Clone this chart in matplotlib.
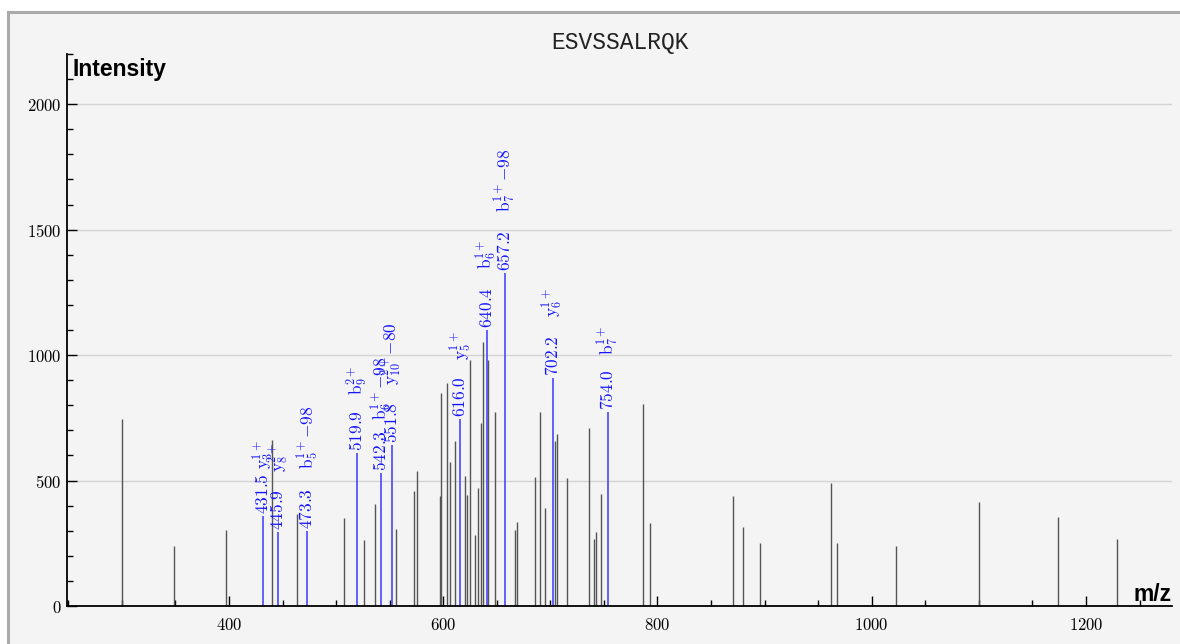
import matplotlib
matplotlib.use('Agg')
import matplotlib.pyplot as plt
from matplotlib.patches import Rectangle
from matplotlib.ticker import MultipleLocator, FuncFormatter

plt.rcParams['mathtext.fontset'] = 'cm'

# unannotated peaks
peak_mz = [300.1, 349.0, 397.2, 440.4, 463.5, 507.4, 526.3, 536.3, 555.6, 573.0,
           575.2, 596.7, 597.8, 603.8, 606.5, 611.3, 620.3, 622.2, 625.3, 629.3,
           632.1, 634.8, 637.1, 642.1, 648.0, 666.7, 668.6, 685.3, 690.3, 695.0,
           704.2, 706.0, 715.8, 735.8, 740.4, 742.3, 747.4, 786.2, 792.7, 870.8,
           879.5, 895.7, 961.7, 967.9, 1023.1, 1100.4, 1173.6, 1228.9]
peak_int = [747, 241, 304, 660, 367, 351, 264, 407, 308, 460,
            537, 437, 850, 887, 573, 658, 517, 441, 981, 284,
            471, 728, 1051, 981, 775, 304, 335, 514, 775, 391,
            658, 684, 511, 708, 268, 295, 447, 804, 331, 437,
            315, 251, 491, 253, 239, 413, 353, 268]

# annotated (matched) peaks
ion_mz = [431.5, 445.9, 473.3, 519.9, 542.3, 551.8, 616.0, 640.4, 657.2, 702.2, 754.0]
ion_int = [357, 293, 297, 609, 531, 643, 747, 1100, 1327, 908, 775]
ion_names = [r'\mathrm{y}_{3}^{1+}', r'\mathrm{y}_{8}^{2+}', r'\mathrm{b}_{5}^{1+}{-}98',
             r'\mathrm{b}_{9}^{2+}', r'\mathrm{b}_{6}^{1+}{-}98', r'\mathrm{y}_{10}^{2+}{-}80',
             r'\mathrm{y}_{5}^{1+}', r'\mathrm{b}_{6}^{1+}', r'\mathrm{b}_{7}^{1+}{-}98',
             r'\mathrm{y}_{6}^{1+}', r'\mathrm{b}_{7}^{1+}']
# pixel offset of the ion name above the peak top
ion_off = [47, 60, 62, 58, 53, 60, 59, 61, 61, 61, 57]

blue = '#1414ff'

fig = plt.figure(figsize=(11.8, 6.44), dpi=100)
fig.patch.set_facecolor('white')
fig.patches.append(Rectangle((8 / 1180, -0.1), 1.2, 0.1 + 632 / 644, transform=fig.transFigure,
                             facecolor='#f4f4f4', edgecolor='#aaaaaa', lw=2.2, zorder=-10))

ax = fig.add_axes([67 / 1180, 38 / 644, 1105 / 1180, 552 / 644])
ax.set_facecolor('none')
ax.set_xlim(248.8, 1280.3)
ax.set_ylim(0, 2200)

ax.vlines(peak_mz, 0, peak_int, color='#555555', lw=1)
ax.vlines(ion_mz, 0, ion_int, color='#4848ff', lw=1.2)

for m, h, name, off in zip(ion_mz, ion_int, ion_names, ion_off):
    ax.annotate(f'${m:.1f}$', xy=(m, h), xytext=(0, 2), textcoords='offset pixels',
                rotation=90, ha='center', va='bottom', color=blue, fontsize=12.5)
    ax.annotate(f'${name}$', xy=(m, h), xytext=(0, off), textcoords='offset pixels',
                rotation=90, ha='center', va='bottom', color=blue, fontsize=12.5)

for s in ['top', 'right']:
    ax.spines[s].set_visible(False)
for s in ['left', 'bottom']:
    ax.spines[s].set_linewidth(1.3)

ax.xaxis.set_major_locator(MultipleLocator(200))
ax.xaxis.set_minor_locator(MultipleLocator(50))
ax.yaxis.set_major_locator(MultipleLocator(500))
ax.yaxis.set_minor_locator(MultipleLocator(100))
fmt = FuncFormatter(lambda v, p: f'${v:.0f}$')
ax.xaxis.set_major_formatter(fmt)
ax.yaxis.set_major_formatter(fmt)
ax.tick_params(which='both', direction='in', width=1, labelsize=12)
ax.tick_params(which='major', length=7)
ax.tick_params(which='minor', length=4.3)
ax.tick_params(axis='y', pad=4)
ax.tick_params(axis='x', pad=7)
ax.yaxis.grid(True, which='major', color='#d4d4d4', lw=1)
ax.set_axisbelow(True)

fig.text(620 / 1180, 1 - 42 / 644, 'ESVSSALRQK', family='Liberation Mono', fontsize=16.5,
         ha='center', va='center', color='#222222')
fig.text(73 / 1180, 1 - 76 / 644, 'Intensity', family='Liberation Sans', fontweight='bold',
         fontsize=16.5, ha='left', va='baseline')
fig.text(1172 / 1180, 1 - 601 / 644, 'm/z', family='Liberation Sans', fontweight='bold',
         fontsize=16.5, ha='right', va='baseline')

fig.savefig('out.png', dpi=100)
